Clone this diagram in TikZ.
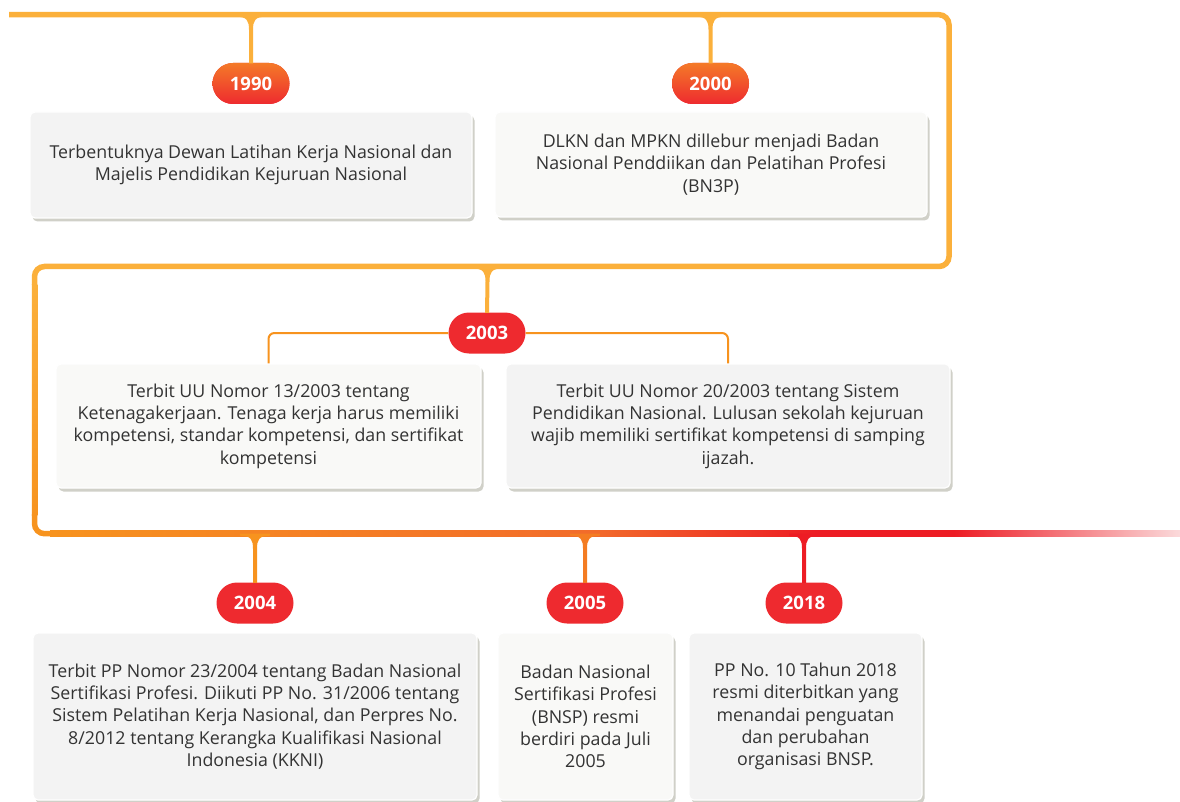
\documentclass[tikz,border=0pt]{standalone}
\usepackage{fontspec}
\setmainfont{Open Sans}
\usetikzlibrary{calc, shadows}

\definecolor{lineyellow}{HTML}{FBB03B}
\definecolor{lineorange}{HTML}{F7931E}
\definecolor{linemid}{HTML}{F26B2A}
\definecolor{linered}{HTML}{ED1C24}
\definecolor{linefade}{HTML}{FBDADB}
\definecolor{stemorange}{HTML}{F47C22}
\definecolor{badgered}{HTML}{EE2A2F}
\definecolor{badgetop}{HTML}{F47A28}
\definecolor{boxgray}{HTML}{F3F3F3}
\definecolor{boxwarm}{HTML}{F9F9F7}
\definecolor{textgray}{HTML}{333333}
\definecolor{shadowgray}{HTML}{C4C4BA}

\pgfdeclarehorizontalshading{bottomline}{100bp}{color(0bp)=(lineorange); color(25bp)=(lineorange); color(49bp)=(linemid); color(59bp)=(linered); color(65bp)=(linered); color(75bp)=(linefade); color(100bp)=(linefade)}

\tikzset{
  eventbox/.style={draw=white, line width=1.2pt, rounded corners=5, fill=boxgray,
    text=textgray, align=center, inner sep=0pt,
    font=\fontsize{17.8}{22.3}\selectfont,
    drop shadow={shadow xshift=2.5pt, shadow yshift=-3.5pt, fill=shadowgray, opacity=0.8}},
  yearbadge/.style={rounded corners=20.5, minimum width=77, minimum height=41,
    inner sep=0pt, text=white, fill=badgered, font=\bfseries\fontsize{18.5}{20}\selectfont},
  branch/.style={draw=lineorange, line width=2pt, rounded corners=6}
}

\begin{document}
\begin{tikzpicture}[x=1pt, y=-1pt]
  \useasboundingbox (0,0) rectangle (1180,802);

  % Timeline
  \draw[lineyellow, line width=5.5pt, rounded corners=10]
     (9,14.7) -- (949,14.7) -- (949,266.5) -- (34.5,266.5) -- (34.5,285);
  \shade[top color=lineyellow, bottom color=lineorange]
     (31.75,284) rectangle (37.25,515);
  \draw[lineorange, line width=5.5pt, rounded corners=10]
     (34.5,514) -- (34.5,533.7) -- (52,533.7);
  \shade[shading=bottomline] (50,530.95) rectangle (1180,536.45);

  % Junctions
  \coordinate (j1990) at (251,14.7);
  \coordinate (j2000) at (710.5,14.7);
  \coordinate (j2003) at (487.5,266.5);
  \coordinate (j2004) at (255,533.7);
  \coordinate (j2005) at (585,533.7);
  \coordinate (j2018) at (804,533.7);

  % Year badges
  \node[yearbadge, top color=badgetop, bottom color=badgered] (y1990) at (251,83.5) {1990};
  \node[yearbadge, top color=badgetop, bottom color=badgered] (y2000) at (710.5,83.5) {2000};
  \node[yearbadge] (y2003) at (487,333) {2003};
  \node[yearbadge] (y2004) at (255,603) {2004};
  \node[yearbadge] (y2005) at (585,603) {2005};
  \node[yearbadge] (y2018) at (804,603) {2018};

  % Stems
  \foreach \j/\b/\c in {j1990/y1990/lineyellow, j2000/y2000/lineyellow, j2003/y2003/lineyellow,
                        j2004/y2004/lineorange, j2005/y2005/stemorange, j2018/y2018/linered}
    \fill[\c] ($(\j)+(-15,2)$) .. controls ($(\j)+(-4,2)$) and ($(\j)+(-2,6)$) .. ($(\j)+(-2,15)$)
      -- ($(\b.north)+(-2,0.5)$) -- ($(\b.north)+(2,0.5)$) -- ($(\j)+(2,15)$)
      .. controls ($(\j)+(2,6)$) and ($(\j)+(4,2)$) .. ($(\j)+(15,2)$) -- ($(\j)+(15,0)$)
      -- ($(\j)+(-15,0)$) -- cycle;

  % Event boxes
  \node[eventbox, minimum width=442, minimum height=106] (b1990) at (251,165)
    {Terbentuknya Dewan Latihan Kerja Nasional dan\\Majelis Pendidikan Kejuruan Nasional};
  \node[eventbox, fill=boxwarm, minimum width=432, minimum height=105] (b2000) at (711,164.5)
    {DLKN dan MPKN dillebur menjadi Badan\\Nasional Penddiikan dan Pelatihan Profesi\\(BN3P)};
  \node[eventbox, fill=boxwarm, minimum width=425, minimum height=124] (b2003a) at (268.5,426)
    {Terbit UU Nomor 13/2003 tentang\\Ketenagakerjaan. Tenaga kerja harus memiliki\\kompetensi, standar kompetensi, dan sertifikat\\kompetensi};
  \node[eventbox, minimum width=444, minimum height=124] (b2003b) at (728,426)
    {Terbit UU Nomor 20/2003 tentang Sistem\\Pendidikan Nasional. Lulusan sekolah kejuruan\\wajib memiliki sertifikat kompetensi di samping\\ijazah.};
  \node[eventbox, minimum width=444, minimum height=167] (b2004) at (255,716.5)
    {Terbit PP Nomor 23/2004 tentang Badan Nasional\\Sertifikasi Profesi. Diikuti PP No. 31/2006 tentang\\Sistem Pelatihan Kerja Nasional, dan Perpres No.\\8/2012 tentang Kerangka Kualifikasi Nasional\\Indonesia (KKNI)};
  \node[eventbox, fill=boxwarm, minimum width=175, minimum height=167] (b2005) at (585.5,716.5)
    {Badan Nasional\\Sertifikasi Profesi\\(BNSP) resmi\\berdiri pada Juli\\2005};
  \node[eventbox, minimum width=233, minimum height=167] (b2018) at (805.5,716.5)
    {PP No. 10 Tahun 2018\\resmi diterbitkan yang\\menandai penguatan\\dan perubahan\\organisasi BNSP.};

  % 2003 branches
  \draw[branch] (y2003.west) -| (b2003a.north);
  \draw[branch] (y2003.east) -| (b2003b.north);
\end{tikzpicture}
\end{document}
